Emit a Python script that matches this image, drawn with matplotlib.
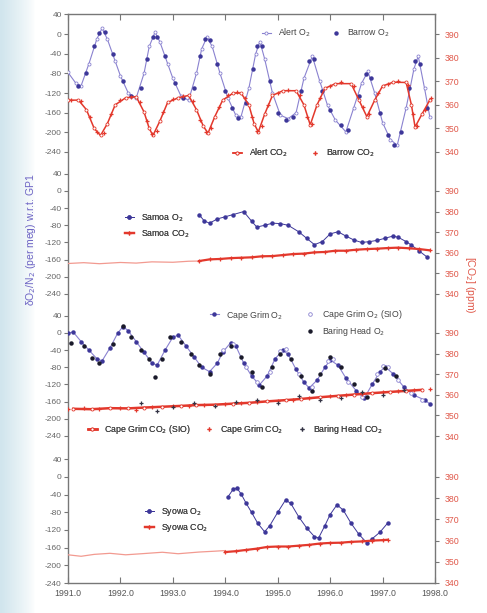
import matplotlib
matplotlib.use("Agg")
import matplotlib.pyplot as plt
import numpy as np

plt.rcParams["font.family"] = ["Liberation Sans", "DejaVu Sans"]
plt.rcParams["axes.unicode_minus"] = False

W, H = 487, 613
BLUE_LN = "#8a82d0"
BLUE = "#3d3799"
RED = "#e3382c"
PINK = "#f29a90"
GREY = "#777777"

# ---------------- panel 1 : Alert / Barrow ----------------
alert_o2_t = [1991.0, 1991.15, 1991.25, 1991.4, 1991.55, 1991.65, 1991.75, 1991.9, 1992.0, 1992.15,
              1992.3, 1992.45, 1992.55, 1992.66, 1992.75, 1992.9, 1993.0, 1993.15, 1993.3, 1993.45,
              1993.55, 1993.65, 1993.75, 1993.9, 1994.05, 1994.2, 1994.3, 1994.45, 1994.58, 1994.66,
              1994.75, 1994.9, 1995.05, 1995.2, 1995.35, 1995.5, 1995.66, 1995.8, 1995.95, 1996.1,
              1996.3, 1996.45, 1996.6, 1996.72, 1996.85, 1997.0, 1997.15, 1997.28, 1997.45, 1997.6,
              1997.68, 1997.8, 1997.9]
alert_o2 = [-78, -100, -105, -60, -10, 12, -10, -55, -85, -120,
            -130, -80, -25, 4, -15, -60, -90, -125, -135, -80,
            -30, -6, -25, -80, -130, -165, -168, -110, -40, -15,
            -50, -120, -165, -172, -160, -90, -45, -95, -145, -175,
            -199, -150, -100, -76, -120, -180, -215, -226, -150, -70,
            -45, -110, -168]

barrow_o2_t = [1991.2, 1991.35, 1991.5, 1991.6, 1991.7, 1991.85, 1992.05, 1992.2, 1992.4, 1992.5,
               1992.62, 1992.7, 1992.85, 1993.05, 1993.2, 1993.4, 1993.52, 1993.62, 1993.7, 1993.85,
               1994.0, 1994.12, 1994.25, 1994.4, 1994.52, 1994.6, 1994.7, 1994.85, 1995.0, 1995.15,
               1995.3, 1995.45, 1995.6, 1995.7, 1995.85, 1996.0, 1996.2, 1996.35, 1996.55, 1996.68,
               1996.78, 1996.95, 1997.1, 1997.22, 1997.35, 1997.5, 1997.62, 1997.72, 1997.85]
barrow_o2 = [-106, -80, -25, 2, 5, -40, -95, -125, -110, -50,
             -5, -5, -45, -100, -130, -110, -45, -10, -12, -60,
             -115, -150, -170, -140, -70, -25, -25, -95, -160, -175,
             -168, -115, -55, -50, -115, -155, -185, -195, -125, -82,
             -90, -160, -205, -225, -200, -110, -55, -60, -150]

alert_co2_t = [1991.0, 1991.2, 1991.35, 1991.5, 1991.62, 1991.75, 1991.9, 1992.1, 1992.3, 1992.45,
               1992.55, 1992.62, 1992.75, 1992.9, 1993.1, 1993.3, 1993.45, 1993.58, 1993.67, 1993.8,
               1993.95, 1994.15, 1994.3, 1994.45, 1994.55, 1994.63, 1994.75, 1994.9, 1995.1, 1995.35,
               1995.5, 1995.62, 1995.75, 1995.9, 1996.1, 1996.4, 1996.55, 1996.7, 1996.85, 1997.0,
               1997.2, 1997.45, 1997.55, 1997.62, 1997.75, 1997.9]
alert_co2 = [362, 362, 358, 350, 347, 352, 360, 363, 363.5, 357,
             350, 347, 353, 361, 363, 364, 358, 351, 348, 355,
             362, 365, 365, 360, 352, 348.5, 356, 364, 366, 366,
             360, 351.5, 360, 367, 369, 369, 362, 355, 362, 368,
             369.6, 369.5, 360, 350.6, 356, 362]

barrow_co2_t = [1991.05, 1991.25, 1991.42, 1991.55, 1991.68, 1991.82, 1992.0, 1992.2, 1992.38, 1992.5,
                1992.6, 1992.7, 1992.82, 1993.0, 1993.2, 1993.38, 1993.52, 1993.64, 1993.72, 1993.88,
                1994.05, 1994.22, 1994.38, 1994.5, 1994.6, 1994.7, 1994.82, 1995.0, 1995.2, 1995.42,
                1995.55, 1995.66, 1995.8, 1996.0, 1996.2, 1996.45, 1996.62, 1996.75, 1996.92, 1997.1,
                1997.3, 1997.48, 1997.58, 1997.66, 1997.8, 1997.92]
barrow_co2 = [362, 361.5, 355, 348.5, 348, 356, 362, 363.5, 361, 353,
              347.5, 349, 357, 362.5, 363.8, 361.5, 353.5, 348.5, 350, 359,
              364, 365.5, 363, 355, 349, 351, 360, 365, 366.5, 364,
              355, 352, 363, 368, 369.5, 368, 359, 356, 365, 369,
              370, 368.5, 356, 351, 358, 363]

# ---------------- panel 2 : Samoa ----------------
samoa_o2_t = [1993.5, 1993.6, 1993.7, 1993.85, 1994.0, 1994.15, 1994.35, 1994.5, 1994.6, 1994.75,
              1994.9, 1995.05, 1995.2, 1995.4, 1995.55, 1995.7, 1995.85, 1996.0, 1996.15, 1996.3,
              1996.45, 1996.6, 1996.75, 1996.9, 1997.05, 1997.2, 1997.3, 1997.45, 1997.55, 1997.7,
              1997.85]
samoa_o2 = [-55, -70, -75, -65, -60, -55, -48, -70, -84, -80,
            -75, -76, -80, -95, -110, -125, -118, -100, -95, -105,
            -114, -120, -118, -115, -110, -105, -108, -118, -126, -140,
            -154]
samoa_base_t = [1991.0, 1991.3, 1991.6, 1992.0, 1992.3, 1992.6, 1993.0, 1993.3, 1993.5]
samoa_base = [354.8, 355.2, 354.7, 355.3, 355.0, 355.6, 355.4, 355.9, 356.0]
samoa_co2_t = [1993.5, 1993.7, 1993.9, 1994.1, 1994.3, 1994.5, 1994.7, 1994.9, 1995.1, 1995.3,
               1995.5, 1995.7, 1995.9, 1996.1, 1996.3, 1996.5, 1996.7, 1996.9, 1997.1, 1997.3,
               1997.5, 1997.7, 1997.9]
samoa_co2 = [356.0, 356.8, 357.0, 357.4, 357.6, 357.8, 358.3, 358.4, 358.9, 359.4,
             359.6, 360.2, 360.4, 361.0, 361.0, 361.5, 361.8, 362.0, 362.3, 362.5,
             362.2, 361.8, 361.2]

# ---------------- panel 3 : Cape Grim / Baring Head ----------------
cg_o2_t = [1991.0, 1991.1, 1991.25, 1991.4, 1991.55, 1991.65, 1991.8, 1991.95, 1992.05, 1992.15,
           1992.3, 1992.45, 1992.6, 1992.7, 1992.85, 1993.0, 1993.1, 1993.25, 1993.4, 1993.55,
           1993.7, 1993.85, 1993.95, 1994.1, 1994.2, 1994.35, 1994.5, 1994.65, 1994.8, 1994.95,
           1995.1, 1995.2, 1995.35, 1995.5, 1995.6, 1995.75, 1995.9, 1996.0, 1996.15, 1996.3,
           1996.5, 1996.65, 1996.8, 1996.95, 1997.05, 1997.2, 1997.4, 1997.6, 1997.8, 1997.9]
cg_o2 = [0, 2, -20, -40, -60, -65, -35, 0, 15, 5,
         -20, -45, -70, -75, -40, -10, -5, -30, -55, -80,
         -90, -70, -45, -23, -30, -70, -100, -121, -100, -60,
         -40, -50, -85, -115, -128, -110, -80, -63, -75, -105,
         -135, -152, -120, -90, -79, -95, -125, -145, -156, -165]
cg_sio_o2_t = [1993.95, 1994.15, 1994.4, 1994.6, 1994.85, 1995.05, 1995.15, 1995.4, 1995.65, 1995.95,
               1996.05, 1996.35, 1996.6, 1996.9, 1997.0, 1997.1, 1997.3, 1997.55, 1997.75]
cg_sio_o2 = [-40, -25, -80, -115, -90, -42, -38, -95, -125, -65,
             -60, -115, -148, -95, -76, -80, -110, -140, -155]
bh_o2_t = [1991.05, 1991.3, 1991.45, 1991.6, 1991.85, 1992.05, 1992.2, 1992.4, 1992.55, 1992.65,
           1992.8, 1992.95, 1993.15, 1993.35, 1993.5, 1993.7, 1993.9, 1994.1, 1994.3, 1994.5,
           1994.7, 1994.9, 1995.05, 1995.25, 1995.45, 1995.65, 1995.8, 1996.0, 1996.2, 1996.45,
           1996.7, 1996.9, 1997.05, 1997.25]
bh_o2 = [-23, -30, -58, -70, -25, 16, -10, -40, -60, -103,
         -60, -10, -20, -50, -75, -95, -50, -30, -55, -90,
         -125, -80, -50, -60, -100, -135, -95, -55, -80, -120,
         -150, -110, -82, -100]
cg_co2_t = [1991.0, 1991.3, 1991.6, 1992.0, 1992.3, 1992.6, 1993.0, 1993.3, 1993.6, 1994.0,
            1994.3, 1994.6, 1995.0, 1995.3, 1995.6, 1996.0, 1996.3, 1996.6, 1997.0, 1997.3,
            1997.6, 1997.9]
cg_co2 = [353.0, 353.4, 353.2, 353.6, 352.4, 354.0, 354.5, 354.8, 355.0, 355.5,
          355.9, 356.4, 357.2, 357.7, 358.4, 359.3, 359.8, 360.5, 361.2, 361.6,
          362.2, 362.6]
cg_sio_co2_t = [1991.1, 1991.45, 1991.8, 1992.15, 1992.45, 1992.8, 1993.15, 1993.45, 1993.8, 1994.15,
                1994.45, 1994.8, 1995.15, 1995.45, 1995.8, 1996.15, 1996.45, 1996.8, 1997.15, 1997.45,
                1997.75]
cg_sio_co2 = [353.2, 353.0, 353.5, 353.4, 353.8, 354.2, 354.6, 355.0, 355.2, 355.7,
              356.1, 356.8, 357.4, 358.0, 358.8, 359.5, 360.1, 360.8, 361.4, 361.9,
              362.4]
bh_co2_t = [1992.4, 1992.7, 1993.0, 1993.4, 1993.8, 1994.2, 1994.6, 1995.0, 1995.4, 1995.8,
            1996.2, 1996.6, 1997.0, 1997.4]
bh_co2 = [356.0, 352.0, 354.0, 356.0, 354.5, 356.5, 357.5, 356.0, 359.5, 357.5,
          358.5, 361.5, 360.0, 362.5]

# ---------------- panel 4 : Syowa ----------------
syowa_o2_t = [1994.05, 1994.15, 1994.22, 1994.3, 1994.4, 1994.5, 1994.62, 1994.75, 1994.85, 1995.0,
              1995.15, 1995.25, 1995.4, 1995.55, 1995.7, 1995.78, 1995.9, 1996.0, 1996.13, 1996.25,
              1996.4, 1996.55, 1996.7, 1996.8, 1996.95, 1997.1]
syowa_o2 = [-45, -28, -25, -38, -60, -80, -105, -124, -110, -80,
            -52, -60, -90, -115, -135, -138, -110, -85, -63, -75,
            -105, -130, -149, -140, -125, -104]
syowa_base_t = [1991.0, 1991.25, 1991.5, 1991.8, 1992.1, 1992.4, 1992.8, 1993.1, 1993.5, 1993.8, 1994.0]
syowa_base = [353.3, 352.6, 353.5, 354.0, 353.3, 353.8, 354.5, 353.8, 354.6, 355.0, 355.3]
syowa_co2_t = [1994.0, 1994.2, 1994.4, 1994.6, 1994.8, 1995.0, 1995.2, 1995.4, 1995.6, 1995.8,
               1996.0, 1996.2, 1996.4, 1996.6, 1996.8, 1997.0, 1997.1]
syowa_co2 = [354.6, 355.0, 355.6, 356.2, 357.0, 357.2, 357.2, 357.6, 358.0, 358.6,
             358.9, 359.0, 359.4, 359.6, 360.0, 360.2, 360.4]

# ---------------- figure ----------------
fig = plt.figure(figsize=(W / 100, H / 100), dpi=100)

# bluish slide edge on the left
bg = fig.add_axes([0, 0, 1, 1], zorder=-5)
grad = np.linspace(0, 1, 200)
col = np.ones((1, 200, 3))
fade = np.clip(1 - grad / 0.07, 0, 1)[None, :] ** 0.8
col[..., 0] = 1 - 0.18 * fade
col[..., 1] = 1 - 0.10 * fade
col[..., 2] = 1 - 0.07 * fade
bg.imshow(col, aspect="auto", extent=[0, 1, 0, 1])
bg.axis("off")

X0, X1, TOP, BOT = 68, 435, 14, 583
frame = fig.add_axes([X0 / W, 1 - BOT / H, (X1 - X0) / W, (BOT - TOP) / H])
frame.set_xlim(1991, 1998)
frame.set_ylim(0, 1)
frame.set_yticks([])
frame.set_xticks(np.arange(1991, 1999))
frame.set_xticklabels([f"{y}.0" for y in range(1991, 1999)], fontsize=6.3, color="#555555")
frame.tick_params(axis="x", direction="in", length=4, top=True, color=GREY, pad=4)
for s in frame.spines.values():
    s.set_color(GREY)
    s.set_linewidth(1.0)


def panel(top_px, bot_px):
    ax = fig.add_axes([X0 / W, 1 - bot_px / H, (X1 - X0) / W, (bot_px - top_px) / H])
    ax.set_xlim(1991, 1998)
    ax.set_ylim(-240, 40)
    ax.patch.set_visible(False)
    for s in ax.spines.values():
        s.set_visible(False)
    ax.set_xticks([])
    ax.set_yticks(np.arange(-240, 41, 40))
    ax.tick_params(axis="y", direction="out", length=3, color=GREY, labelsize=6,
                   labelcolor="#666666", pad=1.5)
    tw = ax.twinx()
    tw.set_ylim(340, 390 + 40 * 50 / 240)
    tw.patch.set_visible(False)
    for s in tw.spines.values():
        s.set_visible(False)
    tw.set_yticks(np.arange(340, 391, 10))
    tw.tick_params(axis="y", direction="out", length=3, color=GREY, labelsize=6.3,
                   labelcolor="#e0584a", pad=4)
    return ax, tw


def leg(ax, handles, x_px, y_px, ncol=1, colsp=2.0):
    lg = ax.legend(handles=handles, loc="center left", ncol=ncol, frameon=False,
                   bbox_to_anchor=(x_px / W, 1 - y_px / H), bbox_transform=fig.transFigure,
                   fontsize=6.3, handlelength=1.0, handletextpad=0.8, borderpad=0,
                   borderaxespad=0, columnspacing=colsp, labelspacing=0.55, labelcolor="#444444")
    ax.add_artist(lg)


ms = 2.2

# panel 1
a1, t1 = panel(14.5, 152)
h_ao2, = a1.plot(alert_o2_t, alert_o2, "-o", color=BLUE_LN, lw=0.8, ms=ms, mfc="white",
                 mec=BLUE_LN, mew=0.6, label="Alert O$_2$")
h_bo2, = a1.plot(barrow_o2_t, barrow_o2, "o", color=BLUE, ms=ms, label="Barrow O$_2$")
h_ac, = t1.plot(alert_co2_t, alert_co2, "-o", color=RED, lw=1.1, ms=ms, mfc="white", mec=RED,
                mew=0.6, label="Alert CO$_2$")
h_bc, = t1.plot(barrow_co2_t, barrow_co2, "+", color=RED, ms=3.5, mew=0.9, label="Barrow CO$_2$")
leg(a1, [h_ao2, h_bo2], 262, 33, ncol=2, colsp=2.4)
leg(a1, [h_ac, h_bc], 233, 153, ncol=2, colsp=2.6)

# panel 2
a2, t2 = panel(173.8, 294)
h_so2, = a2.plot(samoa_o2_t, samoa_o2, "-o", color=BLUE, lw=0.7, ms=ms, label="Samoa O$_2$")
t2.plot(samoa_base_t, samoa_base, "-", color=PINK, lw=0.9)
h_sc, = t2.plot(samoa_co2_t, samoa_co2, "-+", color=RED, lw=1.6, ms=3.5, mew=0.9, label="Samoa CO$_2$")
leg(a2, [h_so2, h_sc], 125, 226)

# panel 3
a3, t3 = panel(315.8, 436)
h_co2, = a3.plot(cg_o2_t, cg_o2, "-o", color=BLUE_LN, lw=0.8, ms=ms, mfc=BLUE, mec=BLUE,
                 label="Cape Grim O$_2$")
h_cso2, = a3.plot(cg_sio_o2_t, cg_sio_o2, "o", ms=ms + 0.4, mfc="white", mec=BLUE_LN, mew=0.6,
                  label="Cape Grim O$_2$ (SIO)")
h_bho2, = a3.plot(bh_o2_t, bh_o2, "o", color="#1a1a2a", ms=ms, label="Baring Head O$_2$")
h_csc, = t3.plot(cg_sio_co2_t, cg_sio_co2, "-o", color=RED, lw=1.8, ms=ms, mfc="white", mec=RED,
                 mew=0.6, label="Cape Grim CO$_2$ (SIO)")
h_cc, = t3.plot(cg_co2_t, cg_co2, "+", color=RED, ms=3.5, mew=0.9, label="Cape Grim CO$_2$")
h_bhc, = t3.plot(bh_co2_t, bh_co2, "+", color="#333344", ms=3.5, mew=0.9, label="Baring Head CO$_2$")
leg(a3, [h_co2], 210, 315)
leg(a3, [h_cso2, h_bho2], 306, 323)
leg(a3, [h_csc, h_cc, h_bhc], 88, 430, ncol=3, colsp=1.6)

# panel 4
a4, t4 = panel(459.3, 583)
h_yo2, = a4.plot(syowa_o2_t, syowa_o2, "-o", color=BLUE, lw=0.7, ms=ms, label="Syowa O$_2$")
t4.plot(syowa_base_t, syowa_base, "-", color=PINK, lw=0.9)
h_yc, = t4.plot(syowa_co2_t, syowa_co2, "-+", color=RED, lw=1.6, ms=3.5, mew=0.9, label="Syowa CO$_2$")
leg(a4, [h_yo2, h_yc], 145, 520)

fig.text(31 / W, 1 - 240 / H, "δO$_2$/N$_2$ (per meg) w.r.t. GP1", rotation=90, ha="center",
         va="center", fontsize=7.5, color="#6c63c4")
fig.text(470 / W, 1 - 285 / H, "[CO$_2$] (ppm)", rotation=270, ha="center", va="center",
         fontsize=7.5, color="#e0584a")

fig.savefig("out.png", dpi=100)
